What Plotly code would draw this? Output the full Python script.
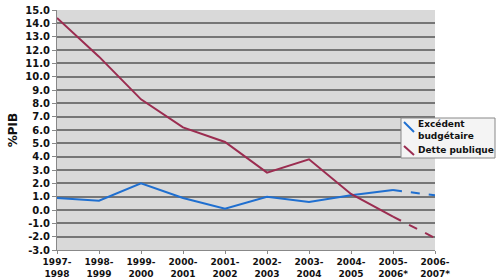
import plotly.graph_objects as go

categories = ["1997-<br>1998", "1998-<br>1999", "1999-<br>2000", "2000-<br>2001", "2001-<br>2002",
              "2002-<br>2003", "2003-<br>2004", "2004-<br>2005", "2005-<br>2006*", "2006-<br>2007*"]
excedent = [0.9, 0.7, 2.0, 0.9, 0.1, 1.0, 0.6, 1.1, 1.5, 1.1]
dette = [14.4, 11.5, 8.3, 6.2, 5.1, 2.8, 3.8, 1.2, -0.5, -2.1]
solid_n = 9  # points drawn solid; last segment dashed (forecast)
yticks = [v for v in range(-3, 16)]
series_names = ["Excédent<br>budgétaire", "Dette publique"]

x = list(range(len(categories)))
blue = "#1f6fd0"
maroon = "#9b2c50"

W, H = 500, 278
L, R, T, B = 57, 435, 10, 250


def px(p):
    return (p - L) / (R - L)


def py(p):
    return (B - p) / (B - T)


fig = go.Figure()
fig.add_trace(go.Scatter(x=x[:solid_n], y=excedent[:solid_n], mode="lines",
                         line=dict(color=blue, width=2), showlegend=False))
fig.add_trace(go.Scatter(x=x[solid_n-1:], y=excedent[solid_n-1:], mode="lines",
                         line=dict(color=blue, width=2, dash="dash"), showlegend=False))
fig.add_trace(go.Scatter(x=x[:solid_n], y=dette[:solid_n], mode="lines",
                         line=dict(color=maroon, width=2), showlegend=False))
fig.add_trace(go.Scatter(x=x[solid_n-1:], y=dette[solid_n-1:], mode="lines",
                         line=dict(color=maroon, width=2, dash="dash"), showlegend=False))

# legend box drawn manually to match the original compact legend
shapes = [
    dict(type="rect", xref="paper", yref="paper", x0=px(401), x1=px(495), y0=py(118), y1=py(158),
         fillcolor="#f4f4f4", line=dict(color="#888", width=1), layer="above"),
    dict(type="line", xref="paper", yref="paper", x0=px(404), x1=px(414), y0=py(122), y1=py(132),
         line=dict(color=blue, width=2), layer="above"),
    dict(type="line", xref="paper", yref="paper", x0=px(404), x1=px(414), y0=py(146), y1=py(155),
         line=dict(color=maroon, width=2), layer="above"),
]
legend_font = dict(family="DejaVu Sans", size=9, color="#111", weight="bold")
annotations = [
    dict(xref="paper", yref="paper", x=px(416), y=py(130), xanchor="left", yanchor="middle",
         text=series_names[0], showarrow=False, align="left", font=legend_font),
    dict(xref="paper", yref="paper", x=px(416), y=py(150), xanchor="left", yanchor="middle",
         text=series_names[1], showarrow=False, align="left", font=legend_font),
]

fig.update_layout(
    width=W, height=H,
    margin=dict(l=L, r=W - R, t=T, b=H - B, autoexpand=False),
    paper_bgcolor="white", plot_bgcolor="#d9d9d9",
    font=dict(family="DejaVu Sans", size=10, color="#111"),
    showlegend=False,
    shapes=shapes, annotations=annotations,
    xaxis=dict(range=[0, len(categories) - 1], tickmode="array", tickvals=x, ticktext=categories,
               showgrid=False, zeroline=False, showline=True, linecolor="#888", linewidth=1,
               ticks="outside", ticklen=3, tickcolor="#888", automargin=False,
               tickfont=dict(family="DejaVu Sans", size=9, color="#111", weight="bold")),
    yaxis=dict(range=[-3, 15], tickmode="array", tickvals=yticks, ticktext=[f"{v:.1f}" for v in yticks],
               showgrid=True, gridcolor="#767676", gridwidth=1.6, zeroline=False,
               showline=True, linecolor="#888", linewidth=1, automargin=False,
               ticks="outside", ticklen=4, tickcolor="#888",
               tickfont=dict(family="DejaVu Sans", size=10, color="#111", weight="bold"),
               title=dict(text="<b>%PIB</b>", font=dict(family="DejaVu Sans", size=12, color="#111"), standoff=5)),
)
fig.write_html("out.html")
